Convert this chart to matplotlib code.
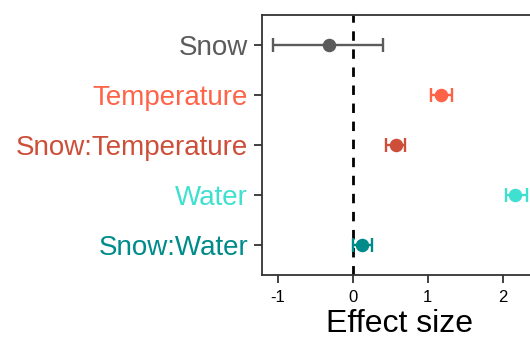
import matplotlib.pyplot as plt
import numpy as np

plt.rcParams['font.family'] = ['Liberation Sans', 'DejaVu Sans']

terms = ['Snow', 'Temperature', 'Snow:Temperature', 'Water', 'Snow:Water']
estimate = np.array([-0.31, 1.18, 0.58, 2.17, 0.12])
lower = np.array([-1.06, 1.05, 0.45, 2.04, 0.00])
upper = np.array([0.40, 1.32, 0.70, 2.32, 0.26])
colors = ['#5b5b5b', '#ff6347', '#cd4f39', '#40e0d0', '#008b8b']

y = np.arange(len(terms))[::-1] + 1   # Snow on top

fig = plt.figure(figsize=(5.3, 3.39), dpi=100)
ax = fig.add_axes([262 / 530, 64 / 339, 275 / 530, 260 / 339])

ax.axvline(0, color='black', linestyle=(0, (3.4, 3.1)), linewidth=2.0, zorder=1)

for i in range(len(terms)):
    ax.errorbar(estimate[i], y[i],
                xerr=[[estimate[i] - lower[i]], [upper[i] - estimate[i]]],
                fmt='o', color=colors[i], markersize=8.7, capsize=5,
                elinewidth=1.7, capthick=1.7, zorder=3)

ax.set_xlim(-1.21, 2.457)
ax.set_ylim(0.4, 5.6)
ax.set_xticks([-1, 0, 1, 2])
ax.set_xticklabels(['-1', '0', '1', '2'])
ax.set_yticks(y)
ax.set_yticklabels(terms, fontsize=20)
for lab, c in zip(ax.get_yticklabels(), colors):
    lab.set_color(c)

ax.tick_params(axis='x', labelsize=12, length=6, width=1.3, color='#333333', pad=5)
ax.tick_params(axis='y', length=6, width=1.3, color='#333333', pad=4)
for s in ax.spines.values():
    s.set_color('#333333')
    s.set_linewidth(1.3)

ax.set_xlabel('Effect size', fontsize=23, labelpad=3)

fig.savefig('out.png', dpi=100)
